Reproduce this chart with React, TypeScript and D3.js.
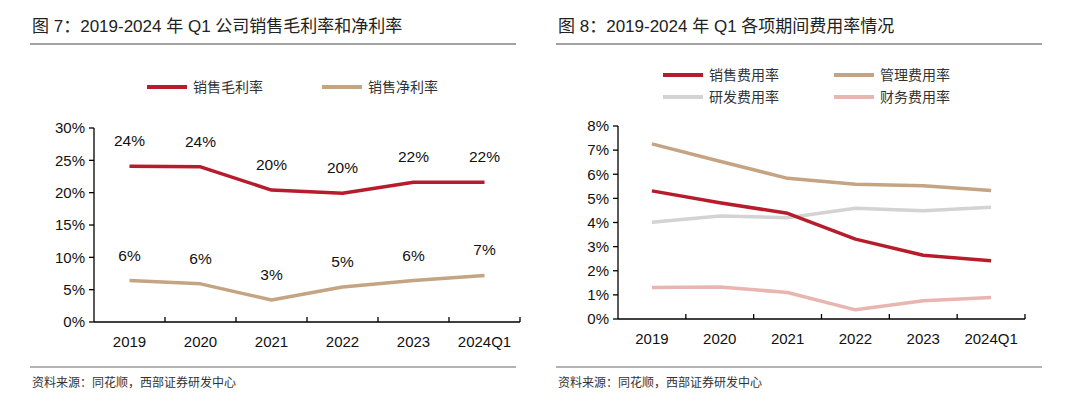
import { useEffect, useRef } from "react";
import * as d3 from "d3";

const years = ["2019", "2020", "2021", "2022", "2023", "2024Q1"];

// 图7
const grossMargin = [24.1, 24.0, 20.4, 19.9, 21.6, 21.6];
const netMargin = [6.4, 5.9, 3.4, 5.4, 6.4, 7.2];
const yTicksLeft = [0, 5, 10, 15, 20, 25, 30];

// 图8
const sellingRate = [5.31, 4.82, 4.38, 3.31, 2.64, 2.41];
const adminRate = [7.26, 6.54, 5.83, 5.59, 5.52, 5.33];
const rdRate = [4.01, 4.27, 4.2, 4.59, 4.49, 4.63];
const financeRate = [1.31, 1.33, 1.1, 0.38, 0.76, 0.89];
const yTicksRight = [0, 1, 2, 3, 4, 5, 6, 7, 8];

const RED = "#B71C2C";
const TAN = "#C4A482";
const GRAY = "#D3D3D3";
const PINK = "#E8B5B0";

const FONT = "'Liberation Sans', Arial, sans-serif";
const CJK = "'Liberation Sans', 'Noto Sans CJK SC', sans-serif";

type Series = { name: string; values: number[]; color: string; width: number };

function drawPanel(
  g: d3.Selection<SVGGElement, unknown, null, undefined>,
  opts: {
    left: number;
    right: number;
    top: number;
    bottom: number;
    max: number;
    ticks: number[];
    series: Series[];
    labels?: boolean;
  }
) {
  const x = d3.scaleBand<string>().domain(years).range([opts.left, opts.right]);
  const y = d3.scaleLinear().domain([0, opts.max]).range([opts.bottom, opts.top]);

  // y axis
  g.append("line")
    .attr("x1", opts.left).attr("x2", opts.left)
    .attr("y1", opts.top).attr("y2", opts.bottom)
    .attr("stroke", "#000").attr("stroke-width", 1.3);
  opts.ticks.forEach((t) => {
    g.append("line")
      .attr("x1", opts.left - 5).attr("x2", opts.left)
      .attr("y1", y(t)).attr("y2", y(t))
      .attr("stroke", "#000").attr("stroke-width", 1.3);
    g.append("text")
      .attr("x", opts.left - 9).attr("y", y(t))
      .attr("dy", "0.35em").attr("text-anchor", "end")
      .attr("font-family", FONT).attr("font-size", 15).attr("fill", "#111")
      .text(`${t}%`);
  });

  // x axis
  g.append("line")
    .attr("x1", opts.left).attr("x2", opts.right)
    .attr("y1", opts.bottom).attr("y2", opts.bottom)
    .attr("stroke", "#000").attr("stroke-width", 1.3);
  years.forEach((yr) => {
    const bx = (x(yr) as number) + x.bandwidth();
    g.append("line")
      .attr("x1", bx).attr("x2", bx)
      .attr("y1", opts.bottom - 5).attr("y2", opts.bottom)
      .attr("stroke", "#000").attr("stroke-width", 1.3);
    g.append("text")
      .attr("x", (x(yr) as number) + x.bandwidth() / 2).attr("y", opts.bottom + 25)
      .attr("text-anchor", "middle")
      .attr("font-family", FONT).attr("font-size", 15).attr("fill", "#111")
      .text(yr);
  });

  const line = d3
    .line<number>()
    .x((_, i) => (x(years[i]) as number) + x.bandwidth() / 2)
    .y((d) => y(d));

  opts.series.forEach((s) => {
    g.append("path")
      .datum(s.values)
      .attr("d", line)
      .attr("fill", "none")
      .attr("stroke", s.color)
      .attr("stroke-width", s.width)
      .attr("stroke-linejoin", "round");
    if (opts.labels) {
      s.values.forEach((v, i) => {
        g.append("text")
          .attr("x", (x(years[i]) as number) + x.bandwidth() / 2)
          .attr("y", y(v) - 20)
          .attr("text-anchor", "middle")
          .attr("font-family", FONT).attr("font-size", 15.5).attr("fill", "#111")
          .text(`${Math.round(v)}%`);
      });
    }
  });
}

function legendItem(
  g: d3.Selection<SVGGElement, unknown, null, undefined>,
  x: number,
  y: number,
  color: string,
  label: string
) {
  g.append("line")
    .attr("x1", x).attr("x2", x + 40)
    .attr("y1", y).attr("y2", y)
    .attr("stroke", color).attr("stroke-width", 4);
  g.append("text")
    .attr("x", x + 46).attr("y", y)
    .attr("dy", "0.36em")
    .attr("font-family", CJK).attr("font-size", 14).attr("fill", "#333")
    .text(label);
}

export default function App() {
  const ref = useRef<SVGSVGElement>(null);

  useEffect(() => {
    if (!ref.current) return;
    const svg = d3.select(ref.current);
    svg.selectAll("*").remove();
    const g = svg.append("g") as d3.Selection<SVGGElement, unknown, null, undefined>;

    // titles and frames
    const titles = [
      { x: 32, text: "图 7：2019-2024 年 Q1 公司销售毛利率和净利率", x1: 30, x2: 516 },
      { x: 558, text: "图 8：2019-2024 年 Q1 各项期间费用率情况", x1: 556, x2: 1042 },
    ];
    titles.forEach((t) => {
      g.append("text")
        .attr("x", t.x).attr("y", 32)
        .attr("font-family", CJK).attr("font-size", 17).attr("fill", "#222")
        .text(t.text);
      g.append("line")
        .attr("x1", t.x1).attr("x2", t.x2).attr("y1", 44).attr("y2", 44)
        .attr("stroke", "#444").attr("stroke-width", 1);
      g.append("line")
        .attr("x1", t.x1).attr("x2", t.x2).attr("y1", 367).attr("y2", 367)
        .attr("stroke", "#666").attr("stroke-width", 1);
      g.append("text")
        .attr("x", t.x1 + 2).attr("y", 387)
        .attr("font-family", CJK).attr("font-size", 12).attr("fill", "#333")
        .text("资料来源：同花顺，西部证券研发中心");
    });

    legendItem(g, 147, 87, RED, "销售毛利率");
    legendItem(g, 322, 87, TAN, "销售净利率");

    drawPanel(g, {
      left: 94,
      right: 520,
      top: 128,
      bottom: 322,
      max: 30,
      ticks: yTicksLeft,
      labels: true,
      series: [
        { name: "销售毛利率", values: grossMargin, color: RED, width: 3.5 },
        { name: "销售净利率", values: netMargin, color: TAN, width: 3.5 },
      ],
    });

    legendItem(g, 663, 75, RED, "销售费用率");
    legendItem(g, 834, 75, TAN, "管理费用率");
    legendItem(g, 663, 97, GRAY, "研发费用率");
    legendItem(g, 834, 97, PINK, "财务费用率");

    drawPanel(g, {
      left: 618,
      right: 1025,
      top: 126,
      bottom: 319,
      max: 8,
      ticks: yTicksRight,
      series: [
        { name: "管理费用率", values: adminRate, color: TAN, width: 3.5 },
        { name: "研发费用率", values: rdRate, color: GRAY, width: 3.5 },
        { name: "销售费用率", values: sellingRate, color: RED, width: 3.5 },
        { name: "财务费用率", values: financeRate, color: PINK, width: 3.5 },
      ],
    });
  }, []);

  return (
    <svg
      ref={ref}
      width={1080}
      height={402}
      style={{ position: "absolute", left: 0, top: 0, background: "#fff" }}
    />
  );
}
